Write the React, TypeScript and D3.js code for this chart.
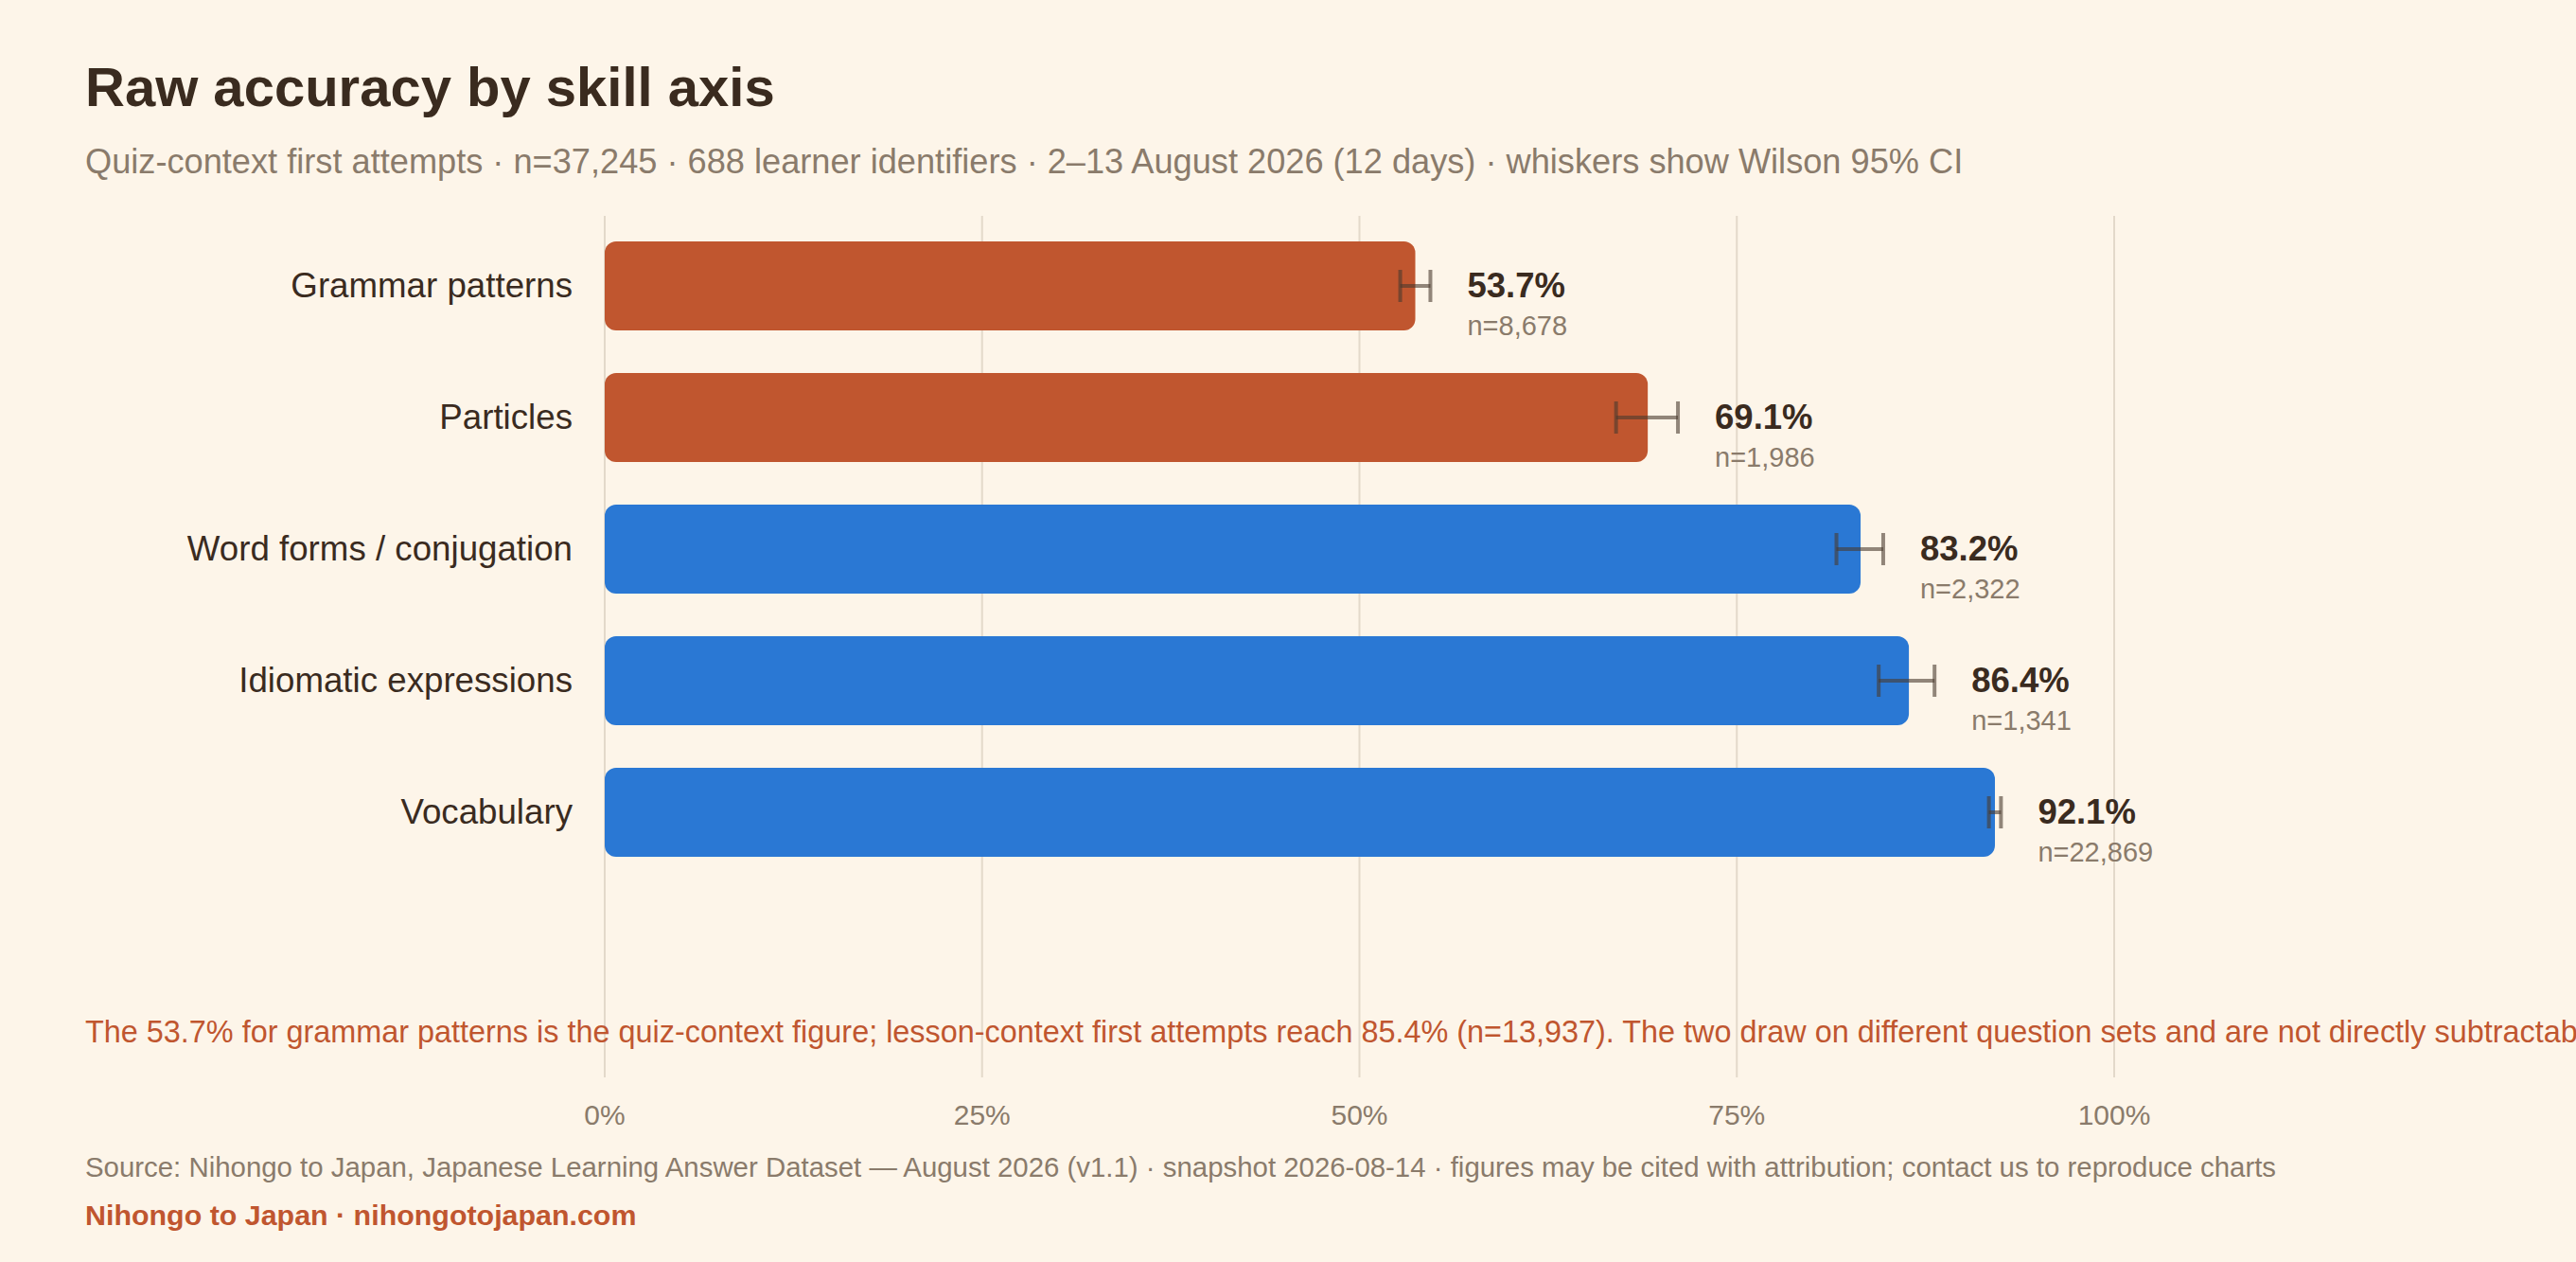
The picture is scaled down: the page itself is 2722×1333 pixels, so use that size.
import * as d3 from 'd3';
import React, { useEffect } from 'react';

// data
const skills = ['Grammar patterns', 'Particles', 'Word forms / conjugation', 'Idiomatic expressions', 'Vocabulary'];
const accuracy = [53.7, 69.1, 83.2, 86.4, 92.1];
const ciLow = [52.7, 67.0, 81.6, 84.4, 91.7];
const ciHigh = [54.7, 71.1, 84.7, 88.1, 92.5];
const attempts = [8678, 1986, 2322, 1341, 22869];
const flagged = [true, true, false, false, false];
const xTicks = [0, 25, 50, 75, 100];

const W = 2722;
const H = 1333;
const BG = '#fdf5e9';
const INK = '#3a2b1f';
const MUTED = '#8a7b6b';
const ORANGE = '#c0562f';
const BLUE = '#2a78d4';
const GRID = '#e3d9ca';
const FONT = '"Liberation Sans", Arial, Helvetica, sans-serif';

const App: React.FC = () => {
  useEffect(() => {
    document.body.style.margin = '0';
    document.body.style.background = BG;
  }, []);

  const x = d3.scaleLinear().domain([0, 100]).range([639, 2234]);
  const y = d3.scaleBand<string>().domain(skills).range([255, 905]).paddingInner(0.324).paddingOuter(0);
  const bh = y.bandwidth();
  const fmtN = d3.format(',');

  return (
    <svg width={W} height={H} style={{ position: 'absolute', left: 0, top: 0, display: 'block' }} fontFamily={FONT}>
      <rect width={W} height={H} fill={BG} />

      <text x={90} y={112} fontSize={58} fontWeight={700} fill={INK}>Raw accuracy by skill axis</text>
      <text x={90} y={183} fontSize={36.2} fill={MUTED}>
        Quiz-context first attempts · n=37,245 · 688 learner identifiers · 2–13 August 2026 (12 days) · whiskers show Wilson 95% CI
      </text>

      {/* grid */}
      {xTicks.map(t => (
        <line key={t} x1={x(t)} x2={x(t)} y1={228} y2={1138} stroke={GRID} strokeWidth={2} />
      ))}

      {/* bars */}
      {skills.map((s, i) => {
        const y0 = y(s) as number;
        const cy = y0 + bh / 2;
        return (
          <g key={s}>
            <text x={605} y={cy} dy={12} textAnchor="end" fontSize={36.7} fill={INK}>{s}</text>
            <rect x={x(0)} y={y0} width={x(accuracy[i]) - x(0)} height={bh} rx={12} ry={12}
              fill={flagged[i] ? ORANGE : BLUE} />
            <g stroke="#4a3b2e" strokeOpacity={0.6} strokeWidth={4}>
              <line x1={x(ciLow[i])} x2={x(ciHigh[i])} y1={cy} y2={cy} />
              <line x1={x(ciLow[i])} x2={x(ciLow[i])} y1={cy - 17} y2={cy + 17} />
              <line x1={x(ciHigh[i])} x2={x(ciHigh[i])} y1={cy - 17} y2={cy + 17} />
            </g>
            <text x={x(ciHigh[i]) + 39} y={cy + 12} fontSize={36.5} fontWeight={700} fill={INK}>
              {accuracy[i].toFixed(1)}%
            </text>
            <text x={x(ciHigh[i]) + 39} y={cy + 52} fontSize={29} fill={MUTED}>n={fmtN(attempts[i])}</text>
          </g>
        );
      })}

      <text x={90} y={1101} fontSize={32.4} fill={ORANGE}>
        The 53.7% for grammar patterns is the quiz-context figure; lesson-context first attempts reach 85.4% (n=13,937). The two draw on different question sets and are not directly subtractable.
      </text>

      {/* x axis labels */}
      {xTicks.map(t => (
        <text key={t} x={x(t)} y={1188} textAnchor="middle" fontSize={30} fill={MUTED}>{t}%</text>
      ))}

      <text x={90} y={1243} fontSize={29.4} fill={MUTED}>
        Source: Nihongo to Japan, Japanese Learning Answer Dataset — August 2026 (v1.1) · snapshot 2026-08-14 · figures may be cited with attribution; contact us to reproduce charts
      </text>
      <text x={90} y={1294} fontSize={30.4} fontWeight={700} fill={ORANGE}>Nihongo to Japan · nihongotojapan.com</text>
    </svg>
  );
};

export default App;
